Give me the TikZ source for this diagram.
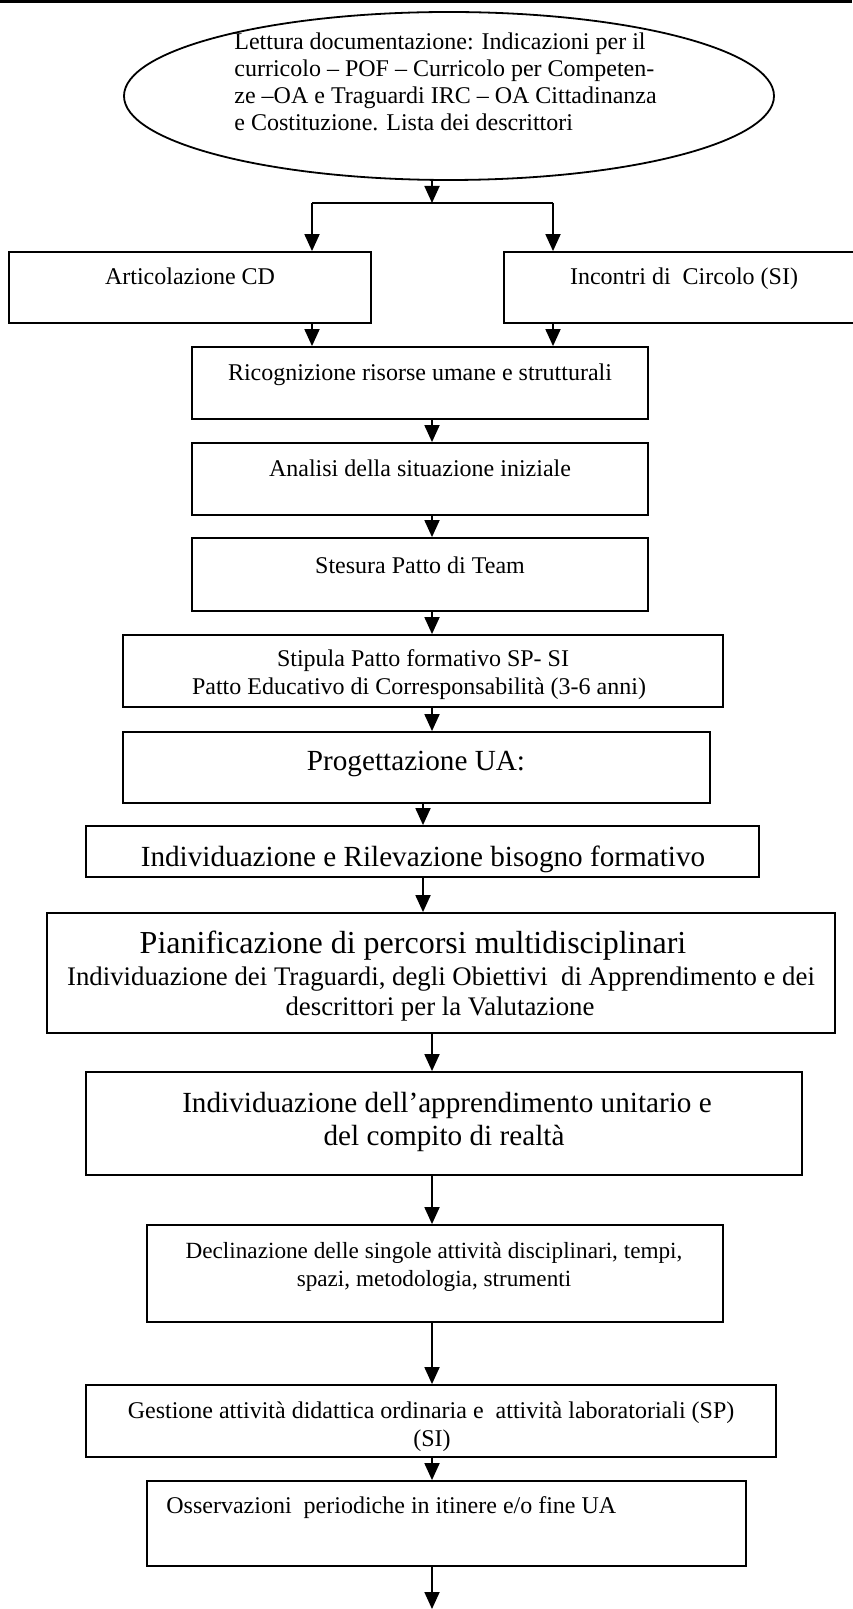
\documentclass[tikz,border=0pt]{standalone}
\usepackage{fontspec}
\setmainfont{Liberation Serif}
\usetikzlibrary{shapes.geometric,arrows.meta}
\tikzset{
  box/.style={draw, line width=0.9pt, rectangle, inner sep=0pt},
  ell/.style={draw, line width=0.9pt, ellipse, inner sep=0pt},
  arr/.style={line width=0.9pt, -{Triangle[length=8.5pt,width=7.5pt]}},
  lnk/.style={line width=0.9pt},
  tn/.style={inner sep=0pt, anchor=base, font=\fontsize{12}{14}\selectfont},
  ts/.style={inner sep=0pt, anchor=base, font=\fontsize{11.6}{13.5}\selectfont},
  tm/.style={inner sep=0pt, anchor=base, font=\fontsize{13.4}{15.5}\selectfont},
  tl/.style={inner sep=0pt, anchor=base, font=\fontsize{14.6}{17}\selectfont},
  tx/.style={inner sep=0pt, anchor=base, font=\fontsize{16}{18.5}\selectfont},
  te/.style={inner sep=0pt, anchor=base west, font=\fontsize{12}{14}\selectfont},
}
\begin{document}
\begin{tikzpicture}[x=0.5pt,y=-0.5pt]
\useasboundingbox (0,0) rectangle (852,1609);
\fill (0,0) rectangle (852,3.5);
% axes for connectors
\coordinate (ax) at (432,0);
\coordinate (bx) at (423,0);
% ellipse
\node[ell, minimum width=325pt, minimum height=84pt] (ell) at (449,96) {};
\node[te] (e1) at (234,50) {Lettura documentazione: Indicazioni per il};
\node[te] (e2) at (234,77) {curricolo – POF – Curricolo per Competen-};
\node[te] (e3) at (234,104) {ze –OA e Traguardi IRC – OA Cittadinanza};
\node[te] (e4) at (234,131) {e Costituzione. Lista dei descrittori};
% boxes
\node[box, minimum width=181pt, minimum height=35.5pt] (art) at (190,287.5) {};
\node[tn] (tart) at (190,285) {Articolazione CD};
\node[box, minimum width=178pt, minimum height=35.5pt] (inc) at (682,287.5) {};
\node[tn] (tinc) at (684,285) {Incontri di\ \ Circolo (SI)};
\node[box, minimum width=228pt, minimum height=36pt] (ric) at (420,383) {};
\node[tn] (tric) at (420,381) {Ricognizione risorse umane e strutturali};
\node[box, minimum width=228pt, minimum height=36pt] (ana) at (420,479) {};
\node[tn] (tana) at (420,476) {Analisi della situazione iniziale};
\node[box, minimum width=228pt, minimum height=36.5pt] (ste) at (420,574.5) {};
\node[tn] (tste) at (420,573) {Stesura Patto di Team};
\node[box, minimum width=300pt, minimum height=36pt] (sti) at (423,671) {};
\node[tn] (tsti1) at (423,666) {Stipula Patto formativo SP- SI};
\node[tn] (tsti2) at (419,694) {Patto Educativo di Corresponsabilità (3-6 anni)};
\node[box, minimum width=293.5pt, minimum height=35.5pt] (pro) at (416.5,767.5) {};
\node[tl] (tpro) at (416,770) {Progettazione UA:};
\node[box, minimum width=336.5pt, minimum height=25.5pt] (ind) at (422.5,851.5) {};
\node[tl] (tind) at (423,866) {Individuazione e Rilevazione bisogno formativo};
\node[box, minimum width=394pt, minimum height=60pt] (pia) at (441,973) {};
\node[tx] (tpia1) at (413,953) {Pianificazione di percorsi multidisciplinari};
\node[tm] (tpia2) at (441,985) {Individuazione dei Traguardi, degli Obiettivi\ \ di Apprendimento e dei};
\node[tm] (tpia3) at (440,1015) {descrittori per la Valutazione};
\node[box, minimum width=358pt, minimum height=51.5pt] (app) at (444,1123.5) {};
\node[tl] (tapp1) at (447,1112) {Individuazione dell’apprendimento unitario e};
\node[tl] (tapp2) at (444,1145) {del compito di realtà};
\node[box, minimum width=288pt, minimum height=48.5pt] (dec) at (435,1273.5) {};
\node[ts] (tdec1) at (434,1258) {Declinazione delle singole attività disciplinari, tempi,};
\node[ts] (tdec2) at (434,1286) {spazi, metodologia, strumenti};
\node[box, minimum width=345pt, minimum height=36pt] (ges) at (431,1421) {};
\node[tn] (tges1) at (431,1418) {Gestione attività didattica ordinaria e\ \ attività laboratoriali (SP)};
\node[tn] (tges2) at (432,1446) {(SI)};
\node[box, minimum width=299.5pt, minimum height=42.5pt] (oss) at (446.5,1523.5) {};
\node[tn, anchor=base west] (toss) at (166,1513) {Osservazioni\ \ periodiche in itinere e/o fine UA};
% connectors
\coordinate (j) at (432,203);
\coordinate (jl) at (312,203);
\coordinate (jr) at (553,203);
\coordinate (end) at (432,1609);
\draw[arr] (ell.south -| ax) -- (j);
\draw[lnk] (jl) -- (jr);
\draw[arr] (jl) -- (art.north -| jl);
\draw[arr] (jr) -- (inc.north -| jr);
\draw[arr] (art.south -| jl) -- (ric.north -| jl);
\draw[arr] (inc.south -| jr) -- (ric.north -| jr);
\draw[arr] (ric.south -| ax) -- (ana.north -| ax);
\draw[arr] (ana.south -| ax) -- (ste.north -| ax);
\draw[arr] (ste.south -| ax) -- (sti.north -| ax);
\draw[arr] (sti.south -| ax) -- (pro.north -| ax);
\draw[arr] (pro.south -| bx) -- (ind.north -| bx);
\draw[arr] (ind.south -| bx) -- (pia.north -| bx);
\draw[arr] (pia.south -| ax) -- (app.north -| ax);
\draw[arr] (app.south -| ax) -- (dec.north -| ax);
\draw[arr] (dec.south -| ax) -- (ges.north -| ax);
\draw[arr] (ges.south -| ax) -- (oss.north -| ax);
\draw[arr] (oss.south -| ax) -- (end);
\end{tikzpicture}
\end{document}
